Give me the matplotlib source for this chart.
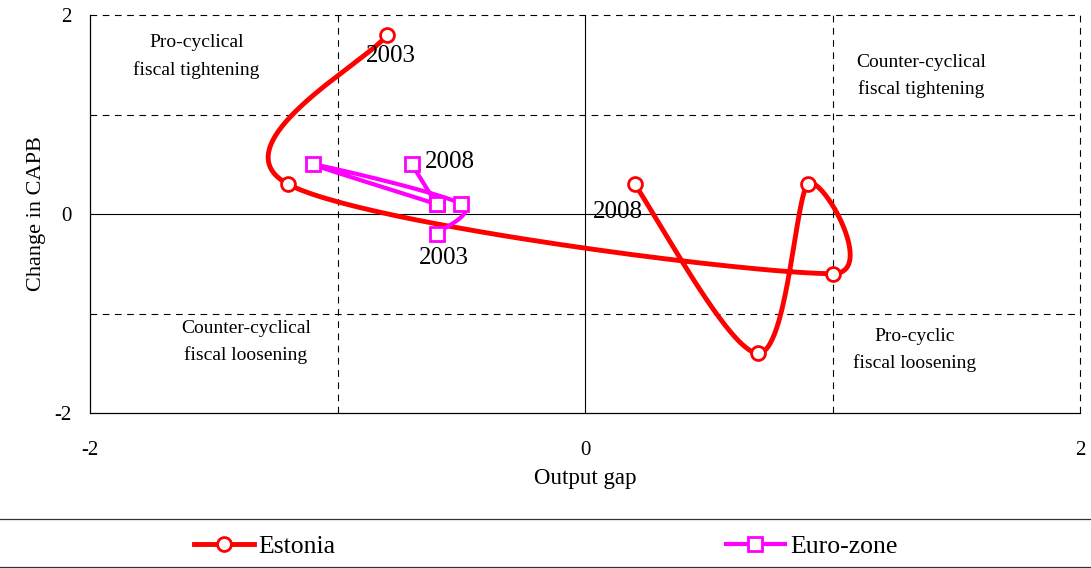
import numpy as np
import matplotlib
matplotlib.use("Agg")
import matplotlib.pyplot as plt
from matplotlib.lines import Line2D

plt.rcParams['font.family'] = ['Liberation Serif', 'DejaVu Serif']

# data (output gap, change in CAPB), 2003..2008
years = ['2003', '2004', '2005', '2006', '2007', '2008']
est_gap = [-0.8, -1.2, 1.0, 0.9, 0.7, 0.2]
est_capb = [1.8, 0.3, -0.6, 0.3, -1.4, 0.3]
ez_gap = [-0.6, -0.5, -1.1, -0.6, -0.6, -0.7]
ez_capb = [-0.2, 0.1, 0.5, 0.1, 0.1, 0.5]

quad_labels = ['Pro-cyclical\nfiscal tightening', 'Counter-cyclical\nfiscal tightening',
               'Counter-cyclical\nfiscal loosening', 'Pro-cyclic\nfiscal loosening']


def excel_smooth(xs, ys, sx, sy, n=60):
    # bezier smoothing in the style of excel's "smoothed line", done in screen-like units
    p = np.column_stack([np.asarray(xs) * sx, np.asarray(ys) * sy])
    out = []
    for i in range(len(p) - 1):
        p0 = p[i - 1] if i > 0 else p[i]
        p1, p2 = p[i], p[i + 1]
        p3 = p[i + 2] if i + 2 < len(p) else p[i + 1]
        d12 = np.linalg.norm(p2 - p1)
        t1 = p2 - p0
        t2 = p3 - p1
        f1 = 1 / 6 if np.linalg.norm(t1) / 6 < d12 / 2 else d12 / (2 * max(np.linalg.norm(t1), 1e-9))
        f2 = 1 / 6 if np.linalg.norm(t2) / 6 < d12 / 2 else d12 / (2 * max(np.linalg.norm(t2), 1e-9))
        c1 = p1 + f1 * t1
        c2 = p2 - f2 * t2
        t = np.linspace(0, 1, n)[:, None]
        seg = (1 - t) ** 3 * p1 + 3 * (1 - t) ** 2 * t * c1 + 3 * (1 - t) * t ** 2 * c2 + t ** 3 * p2
        out.append(seg)
    pts = np.vstack(out)
    return pts[:, 0] / sx, pts[:, 1] / sy


fig = plt.figure(figsize=(10.91, 5.68), dpi=100)
ax = fig.add_axes([90 / 1091, 1 - 413 / 568, 990 / 1091, 398 / 568])
ax.set_xlim(-2, 2)
ax.set_ylim(-2, 2)

# grid
for v in [-1, 1, 2]:
    ax.axvline(v, color='black', lw=0.8, ls=(0, (6, 5)), zorder=1, clip_on=False)
    ax.axhline(v, color='black', lw=0.8, ls=(0, (6, 5)), zorder=1, clip_on=False)
ax.axvline(0, color='black', lw=0.8, zorder=1)
ax.axhline(0, color='black', lw=0.8, zorder=1)
for s in ['top', 'right']:
    ax.spines[s].set_visible(False)
for s in ['left', 'bottom']:
    ax.spines[s].set_linewidth(0.9)

ax.set_xticks([-2, 0, 2])
ax.set_yticks([-2, 0, 2])
ax.set_xticklabels(['-2', '0', '2'])
ax.set_yticklabels(['-2', '0', '2'])
ax.tick_params(axis='both', length=0, labelsize=15)
ax.tick_params(axis='x', pad=20)
ax.tick_params(axis='y', pad=13)
ax.set_xlabel('Output gap', fontsize=16.5, labelpad=6)
ax.set_ylabel('Change in CAPB', fontsize=16, labelpad=6)

sx, sy = 247.5, 100.0
red = '#ff0000'
mag = '#ff00ff'

ex, ey = excel_smooth(est_gap, est_capb, sx, sy)
ax.plot(ex, ey, color=red, lw=3.5, solid_capstyle='round', zorder=3)
ax.plot(est_gap, est_capb, ls='none', marker='o', ms=10, mfc='white', mec=red, mew=2, zorder=4)

zx, zy = excel_smooth(ez_gap, ez_capb, sx, sy)
ax.plot(zx, zy, color=mag, lw=3.0, solid_capstyle='round', zorder=5)
ax.plot(ez_gap, ez_capb, ls='none', marker='s', ms=10, mfc='white', mec=mag, mew=2, zorder=6)

# year labels
ax.annotate(years[0], (est_gap[0], est_capb[0]), xytext=(4, -21), textcoords='offset pixels',
            ha='center', va='center', fontsize=18, zorder=7)
ax.annotate(years[-1], (est_gap[-1], est_capb[-1]), xytext=(-17, -28), textcoords='offset pixels',
            ha='center', va='center', fontsize=18, zorder=7)
ax.annotate(years[-1], (ez_gap[-1], ez_capb[-1]), xytext=(38, 2), textcoords='offset pixels',
            ha='center', va='center', fontsize=18, zorder=7)
ax.annotate(years[0], (ez_gap[0], ez_capb[0]), xytext=(7, -24), textcoords='offset pixels',
            ha='center', va='center', fontsize=18, zorder=7)

# quadrant notes
quad_pos = [(-1.57, 1.585), (1.36, 1.385), (-1.37, -1.285), (1.33, -1.365)]
for txt, (qx, qy) in zip(quad_labels, quad_pos):
    ax.text(qx, qy, txt, ha='center', va='center', fontsize=14, linespacing=1.7, zorder=2)

# legend strip
lax = fig.add_axes([0, 1 / 568, 1, 48 / 568])
lax.set_xticks([])
lax.set_yticks([])
for s in ['left', 'right']:
    lax.spines[s].set_visible(False)
for s in ['top', 'bottom']:
    lax.spines[s].set_linewidth(0.9)
    lax.spines[s].set_color('#333333')

h1 = Line2D([], [], color=red, lw=3.5, marker='o', ms=10, mfc='white', mec=red, mew=2)
h2 = Line2D([], [], color=mag, lw=3.0, marker='s', ms=10, mfc='white', mec=mag, mew=2)
leg1 = lax.legend([h1], ['Estonia'], loc='center', bbox_to_anchor=(0.243, 0.42), frameon=False,
                  fontsize=18.5, handlelength=2.3, handletextpad=0.2)
lax.add_artist(leg1)
lax.legend([h2], ['Euro-zone'], loc='center', bbox_to_anchor=(0.744, 0.42), frameon=False,
           fontsize=18.5, handlelength=2.3, handletextpad=0.2)

fig.savefig('out.png', dpi=100)
